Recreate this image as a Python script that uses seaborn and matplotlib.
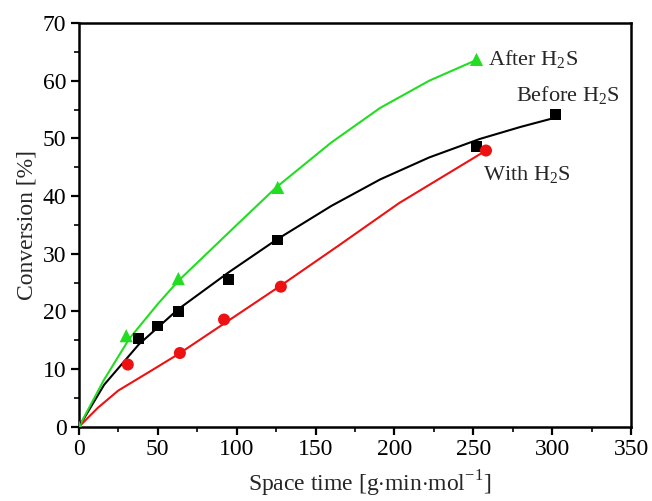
import matplotlib
matplotlib.use("Agg")
import matplotlib.pyplot as plt
import seaborn as sns
from matplotlib.ticker import MultipleLocator

# measured points
after_x = [0, 30, 63, 126, 252]
after_y = [0, 15.8, 25.7, 41.5, 63.7]
before_x = [38, 50, 63, 95, 126, 252, 302]
before_y = [15.3, 17.5, 20.0, 25.6, 32.4, 48.6, 54.2]
with_x = [31, 64, 92, 128, 258]
with_y = [10.8, 12.8, 18.6, 24.3, 47.9]

# fitted curves
after_fit_x = [0, 16, 32, 50, 63, 100, 125, 160, 191, 222, 252]
after_fit_y = [0, 8.2, 15.3, 21.3, 25.3, 35.0, 41.5, 49.3, 55.3, 60.0, 63.6]
before_fit_x = [0, 16, 38, 63, 95, 125, 160, 191, 222, 254, 280, 302]
before_fit_y = [0, 7.3, 14.3, 20.4, 26.8, 32.4, 38.3, 42.9, 46.7, 49.9, 52.0, 53.6]
with_fit_x = [0, 12, 25, 45, 63, 92, 128, 165, 203, 258]
with_fit_y = [0, 3.3, 6.3, 9.6, 12.6, 17.9, 24.5, 31.5, 38.8, 47.9]

sns.set_style("ticks")
plt.rcParams['font.family'] = ['Liberation Serif', 'DejaVu Serif']
plt.rcParams['mathtext.fontset'] = 'custom'
plt.rcParams['mathtext.rm'] = 'Liberation Serif'

fig = plt.figure(figsize=(6.52, 5.01), dpi=100)
ax = fig.add_axes([0.121, 0.148, 0.847, 0.806])

green = '#22dd22'
red = '#ee1111'
sns.lineplot(x=before_fit_x, y=before_fit_y, ax=ax, color='black', lw=1.5, sort=False)
sns.lineplot(x=with_fit_x, y=with_fit_y, ax=ax, color=red, lw=1.5, sort=False)
sns.lineplot(x=after_fit_x, y=after_fit_y, ax=ax, color=green, lw=1.5, sort=False)

sns.scatterplot(x=before_x, y=before_y, ax=ax, marker='s', color='black', s=60, edgecolor='none', zorder=5)
sns.scatterplot(x=with_x, y=with_y, ax=ax, marker='o', color=red, s=75, edgecolor='none', zorder=5)
sns.scatterplot(x=after_x, y=after_y, ax=ax, marker='^', color=green, s=90, edgecolor='none', zorder=6)

ax.set_xlim(0, 350)
ax.set_ylim(0, 70)
ax.xaxis.set_major_locator(MultipleLocator(50))
ax.xaxis.set_minor_locator(MultipleLocator(25))
ax.yaxis.set_major_locator(MultipleLocator(10))
ax.yaxis.set_minor_locator(MultipleLocator(5))
for s in ax.spines.values():
    s.set_visible(True)
    s.set_linewidth(1.8)
    s.set_color('black')
ax.tick_params(which='major', direction='out', length=6, width=1.6, labelsize=17, colors='black', pad=3)
ax.tick_params(which='minor', direction='out', length=3.5, width=1.4)
ax.tick_params(top=False, right=False, which='both')

ax.set_xlabel('Space time [g$\\cdot$min$\\cdot$mol$^{-1}$]', fontsize=17)
ax.set_ylabel('Conversion [%]', fontsize=17, labelpad=4)
ax.xaxis.set_label_coords(0.527, -0.103)

ax.text(259, 63.7, 'After H$_2$S', fontsize=16, va='center', ha='left')
ax.text(277, 57.4, 'Before H$_2$S', fontsize=16, va='center', ha='left')
ax.text(256, 43.6, 'With H$_2$S', fontsize=16, va='center', ha='left')

fig.savefig('out.png', dpi=100)
